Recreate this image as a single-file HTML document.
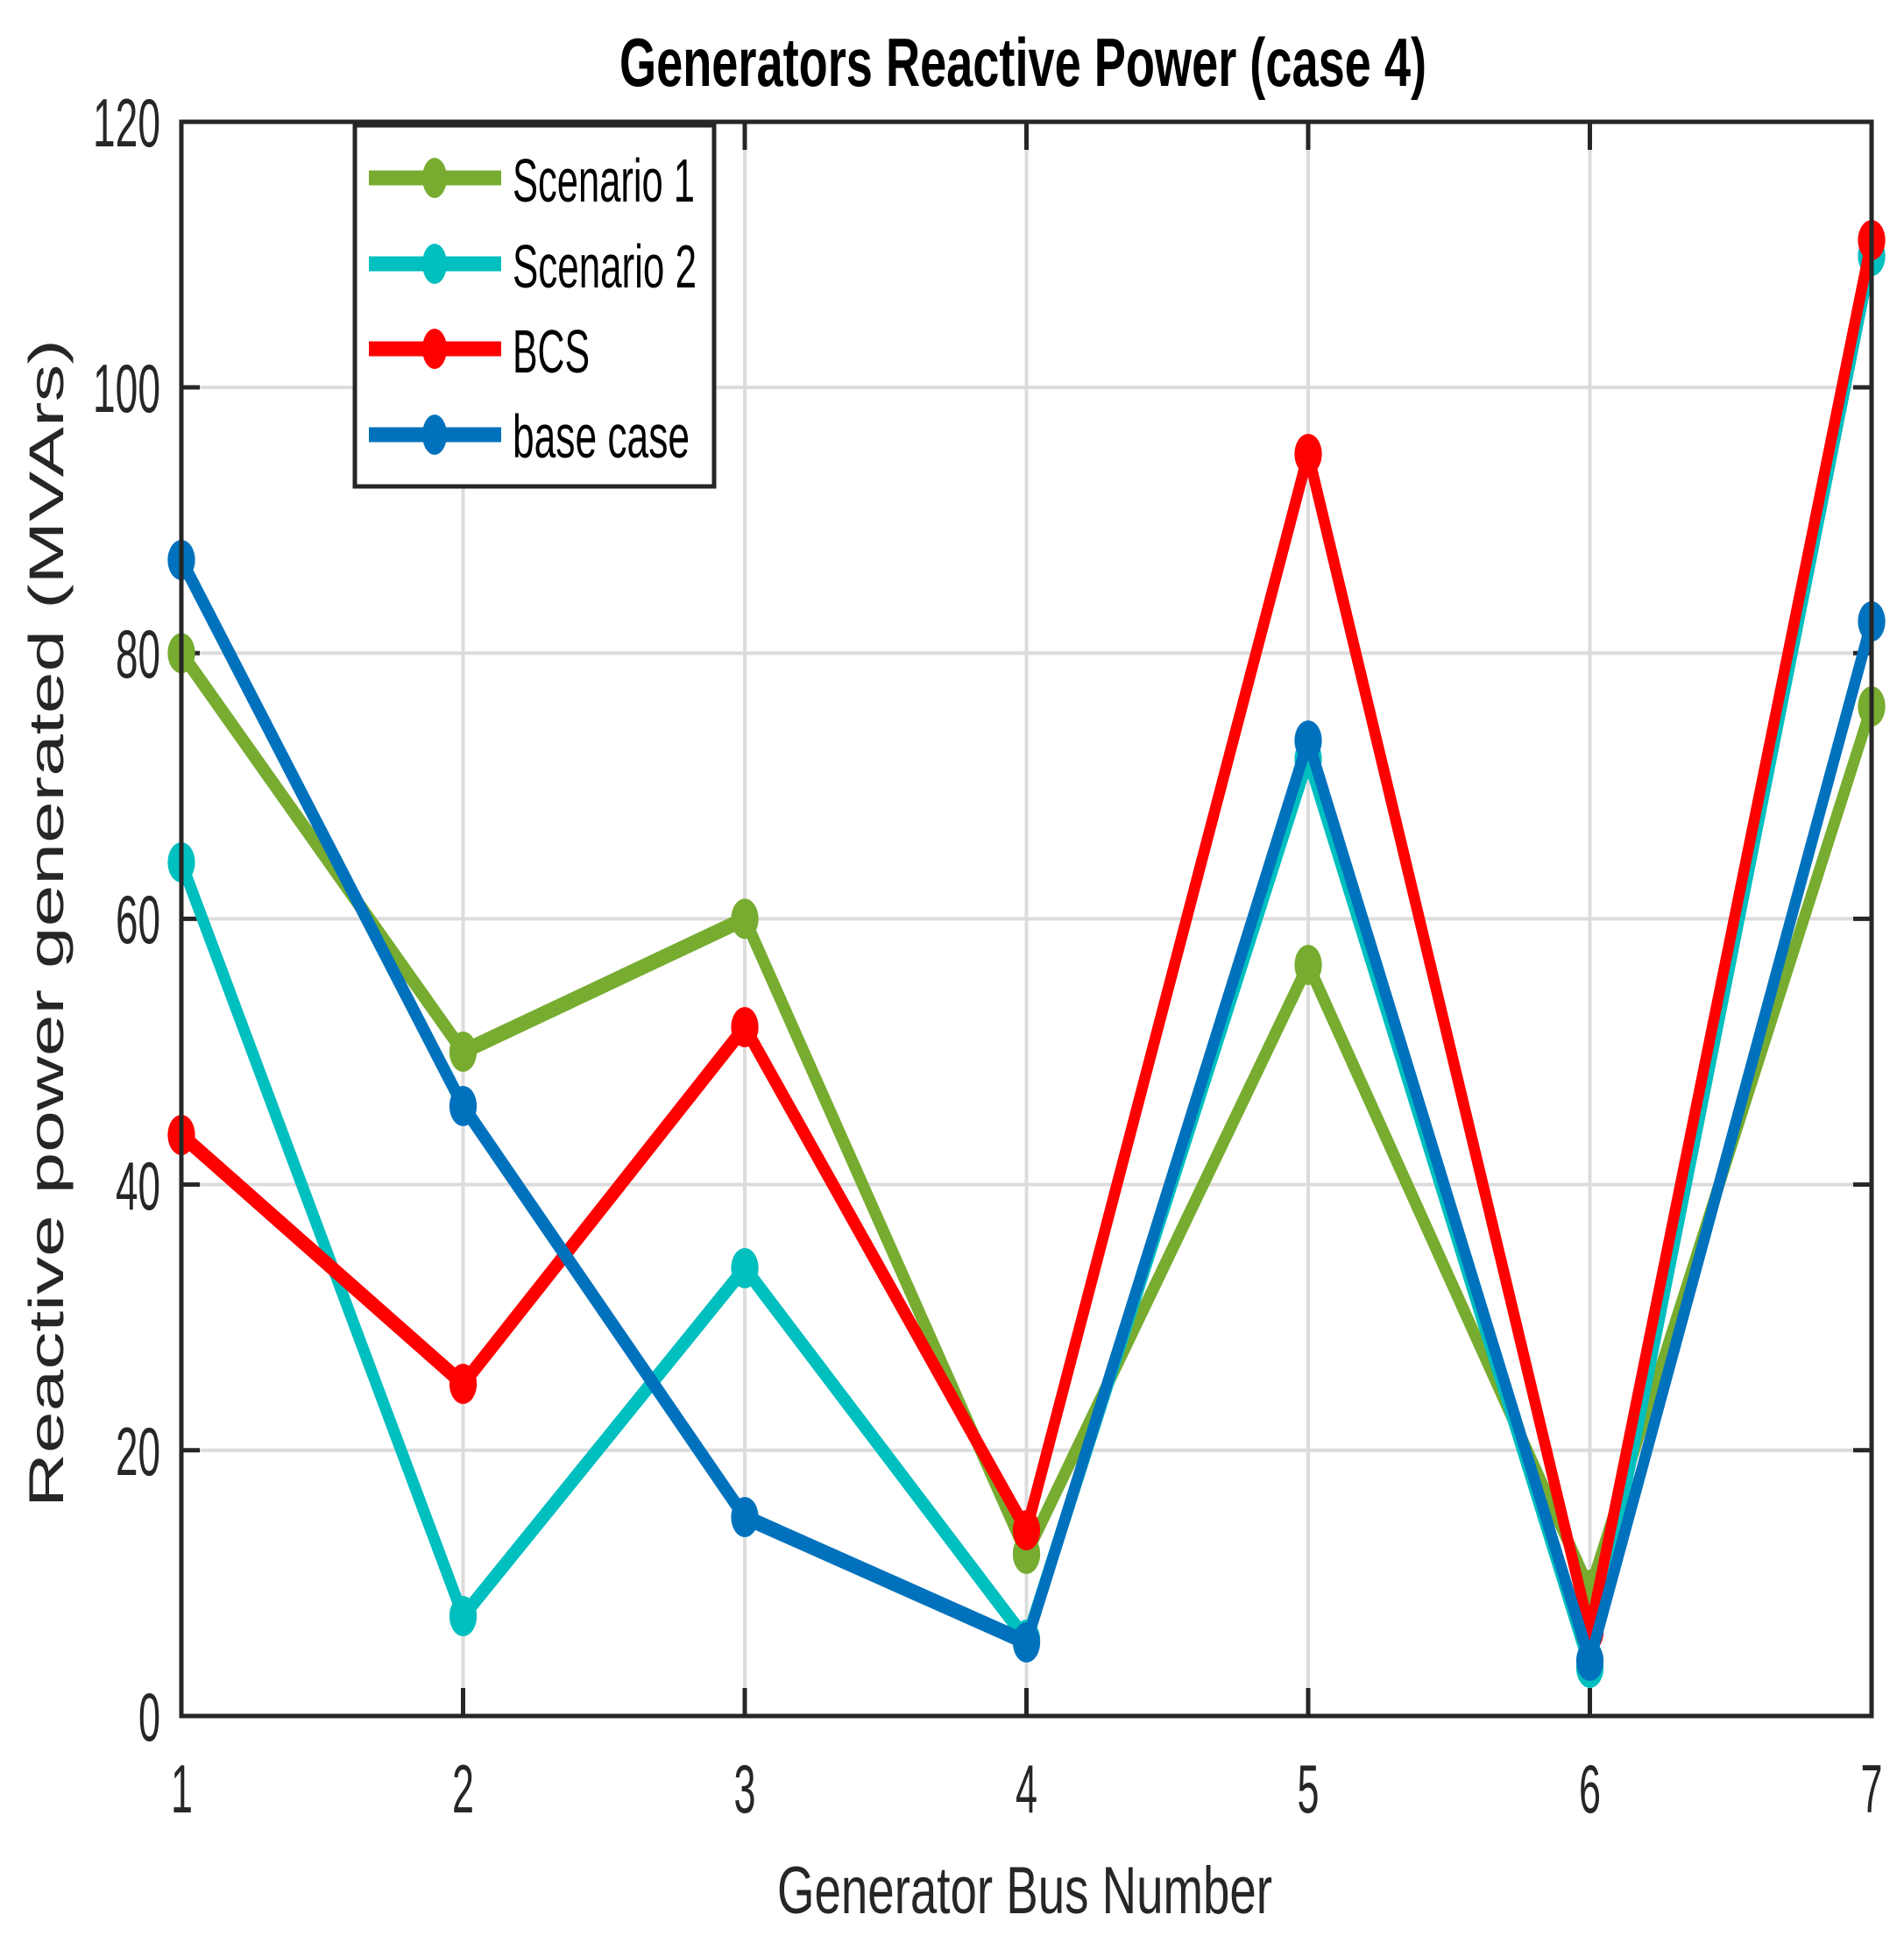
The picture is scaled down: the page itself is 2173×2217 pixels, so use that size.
<!DOCTYPE html>
<html><head><meta charset="utf-8"><style>
html,body{margin:0;padding:0;background:#fff;}
svg{display:block;}
text{font-family:"Liberation Sans",sans-serif;fill:#262626;}
</style></head><body>
<svg width="2173" height="2217" viewBox="0 0 2173 2217" xmlns="http://www.w3.org/2000/svg">
<rect width="2173" height="2217" fill="#fff"/>
<g stroke="#dcdcdc" stroke-width="4">
<line x1="528.5" y1="139" x2="528.5" y2="1958"/>
<line x1="850" y1="139" x2="850" y2="1958"/>
<line x1="1171.5" y1="139" x2="1171.5" y2="1958"/>
<line x1="1493" y1="139" x2="1493" y2="1958"/>
<line x1="1814.5" y1="139" x2="1814.5" y2="1958"/>
<line x1="207" y1="1654.8" x2="2136" y2="1654.8"/>
<line x1="207" y1="1351.6" x2="2136" y2="1351.6"/>
<line x1="207" y1="1048.4" x2="2136" y2="1048.4"/>
<line x1="207" y1="745.2" x2="2136" y2="745.2"/>
<line x1="207" y1="442" x2="2136" y2="442"/>
</g>
<g stroke="#262626" stroke-width="5">
<path d="M528.5 1958v-32M850 1958v-32M1171.5 1958v-32M1493 1958v-32M1814.5 1958v-32"/>
<path d="M528.5 139v32M850 139v32M1171.5 139v32M1493 139v32M1814.5 139v32"/>
<path d="M207 1654.8h21M207 1351.6h21M207 1048.4h21M207 745.2h21M207 442h21"/>
<path d="M2136 1654.8h-21M2136 1351.6h-21M2136 1048.4h-21M2136 745.2h-21M2136 442h-21"/>
</g>
<g transform="scale(0.68,1)" stroke-linejoin="round" fill="none">
<g stroke="#77AC30" stroke-width="18">
<polyline points="304.4,745.2 777.2,1200 1250,1048.4 1722.8,1773 2195.6,1101 2668.4,1814 3141.2,806"/>
</g>
<g fill="#77AC30">
<circle cx="304.4" cy="745.2" r="23"/><circle cx="777.2" cy="1200" r="23"/><circle cx="1250" cy="1048.4" r="23"/><circle cx="1722.8" cy="1773" r="23"/><circle cx="2195.6" cy="1101" r="23"/><circle cx="2668.4" cy="1814" r="23"/><circle cx="3141.2" cy="806" r="23"/>
</g>
<g stroke="#00BFBF" stroke-width="18">
<polyline points="304.4,984 777.2,1844 1250,1447 1722.8,1871 2195.6,866 2668.4,1903 3141.2,292"/>
</g>
<g fill="#00BFBF">
<circle cx="304.4" cy="984" r="23"/><circle cx="777.2" cy="1844" r="23"/><circle cx="1250" cy="1447" r="23"/><circle cx="1722.8" cy="1871" r="23"/><circle cx="2195.6" cy="866" r="23"/><circle cx="2668.4" cy="1903" r="23"/><circle cx="3141.2" cy="292" r="23"/>
</g>
<g stroke="#FF0000" stroke-width="18">
<polyline points="304.4,1295 777.2,1579 1250,1172 1722.8,1746 2195.6,518 2668.4,1862 3141.2,274"/>
</g>
<g fill="#FF0000">
<circle cx="304.4" cy="1295" r="23"/><circle cx="777.2" cy="1579" r="23"/><circle cx="1250" cy="1172" r="23"/><circle cx="1722.8" cy="1746" r="23"/><circle cx="2195.6" cy="518" r="23"/><circle cx="2668.4" cy="1862" r="23"/><circle cx="3141.2" cy="274" r="23"/>
</g>
<g stroke="#0072BD" stroke-width="18">
<polyline points="304.4,639 777.2,1262 1250,1731 1722.8,1874 2195.6,845 2668.4,1895 3141.2,709"/>
</g>
<g fill="#0072BD">
<circle cx="304.4" cy="639" r="23"/><circle cx="777.2" cy="1262" r="23"/><circle cx="1250" cy="1731" r="23"/><circle cx="1722.8" cy="1874" r="23"/><circle cx="2195.6" cy="845" r="23"/><circle cx="2668.4" cy="1895" r="23"/><circle cx="3141.2" cy="709" r="23"/>
</g>
</g>
<rect x="207" y="139" width="1929" height="1819" fill="none" stroke="#262626" stroke-width="5"/>
<rect x="405" y="143" width="410" height="412" fill="#fff" stroke="#262626" stroke-width="5"/>
<g stroke-width="17">
<line x1="421" y1="203" x2="572" y2="203" stroke="#77AC30"/>
<line x1="421" y1="301" x2="572" y2="301" stroke="#00BFBF"/>
<line x1="421" y1="398" x2="572" y2="398" stroke="#FF0000"/>
<line x1="421" y1="496" x2="572" y2="496" stroke="#0072BD"/>
</g>
<ellipse cx="496" cy="203" rx="14" ry="23" fill="#77AC30"/>
<ellipse cx="496" cy="301" rx="14" ry="23" fill="#00BFBF"/>
<ellipse cx="496" cy="398" rx="14" ry="23" fill="#FF0000"/>
<ellipse cx="496" cy="496" rx="14" ry="23" fill="#0072BD"/>
<g font-size="70">
<text x="585" y="230" textLength="208" lengthAdjust="spacingAndGlyphs" style="fill:#000">Scenario 1</text>
<text x="585" y="328" textLength="210" lengthAdjust="spacingAndGlyphs" style="fill:#000">Scenario 2</text>
<text x="585" y="425" textLength="88" lengthAdjust="spacingAndGlyphs" style="fill:#000">BCS</text>
<text x="585" y="522" textLength="202" lengthAdjust="spacingAndGlyphs" style="fill:#000">base case</text>
</g>
<g font-size="78" text-anchor="end">
<text x="183" y="1986" textLength="25" lengthAdjust="spacingAndGlyphs">0</text>
<text x="183" y="1683" textLength="51" lengthAdjust="spacingAndGlyphs">20</text>
<text x="183" y="1380" textLength="51" lengthAdjust="spacingAndGlyphs">40</text>
<text x="183" y="1076" textLength="51" lengthAdjust="spacingAndGlyphs">60</text>
<text x="183" y="773" textLength="51" lengthAdjust="spacingAndGlyphs">80</text>
<text x="183" y="470" textLength="77" lengthAdjust="spacingAndGlyphs">100</text>
<text x="183" y="167" textLength="77" lengthAdjust="spacingAndGlyphs">120</text>
</g>
<g font-size="78">
<text x="195" y="2068" textLength="25" lengthAdjust="spacingAndGlyphs">1</text>
<text x="516" y="2068" textLength="25" lengthAdjust="spacingAndGlyphs">2</text>
<text x="837.5" y="2068" textLength="25" lengthAdjust="spacingAndGlyphs">3</text>
<text x="1159" y="2068" textLength="25" lengthAdjust="spacingAndGlyphs">4</text>
<text x="1480.5" y="2068" textLength="25" lengthAdjust="spacingAndGlyphs">5</text>
<text x="1802" y="2068" textLength="25" lengthAdjust="spacingAndGlyphs">6</text>
<text x="2123.5" y="2068" textLength="25" lengthAdjust="spacingAndGlyphs">7</text>
</g>
<text x="707" y="98" font-size="78" font-weight="bold" textLength="921" lengthAdjust="spacingAndGlyphs" style="fill:#000">Generators Reactive Power (case 4)</text>
<text x="887" y="2183" font-size="76" textLength="565" lengthAdjust="spacingAndGlyphs">Generator Bus Number</text>
<text transform="translate(72,1720) rotate(-90)" x="0" y="0" font-size="56" textLength="1333" lengthAdjust="spacingAndGlyphs">Reactive power generated (MVArs)</text>
</svg>
</body></html>
